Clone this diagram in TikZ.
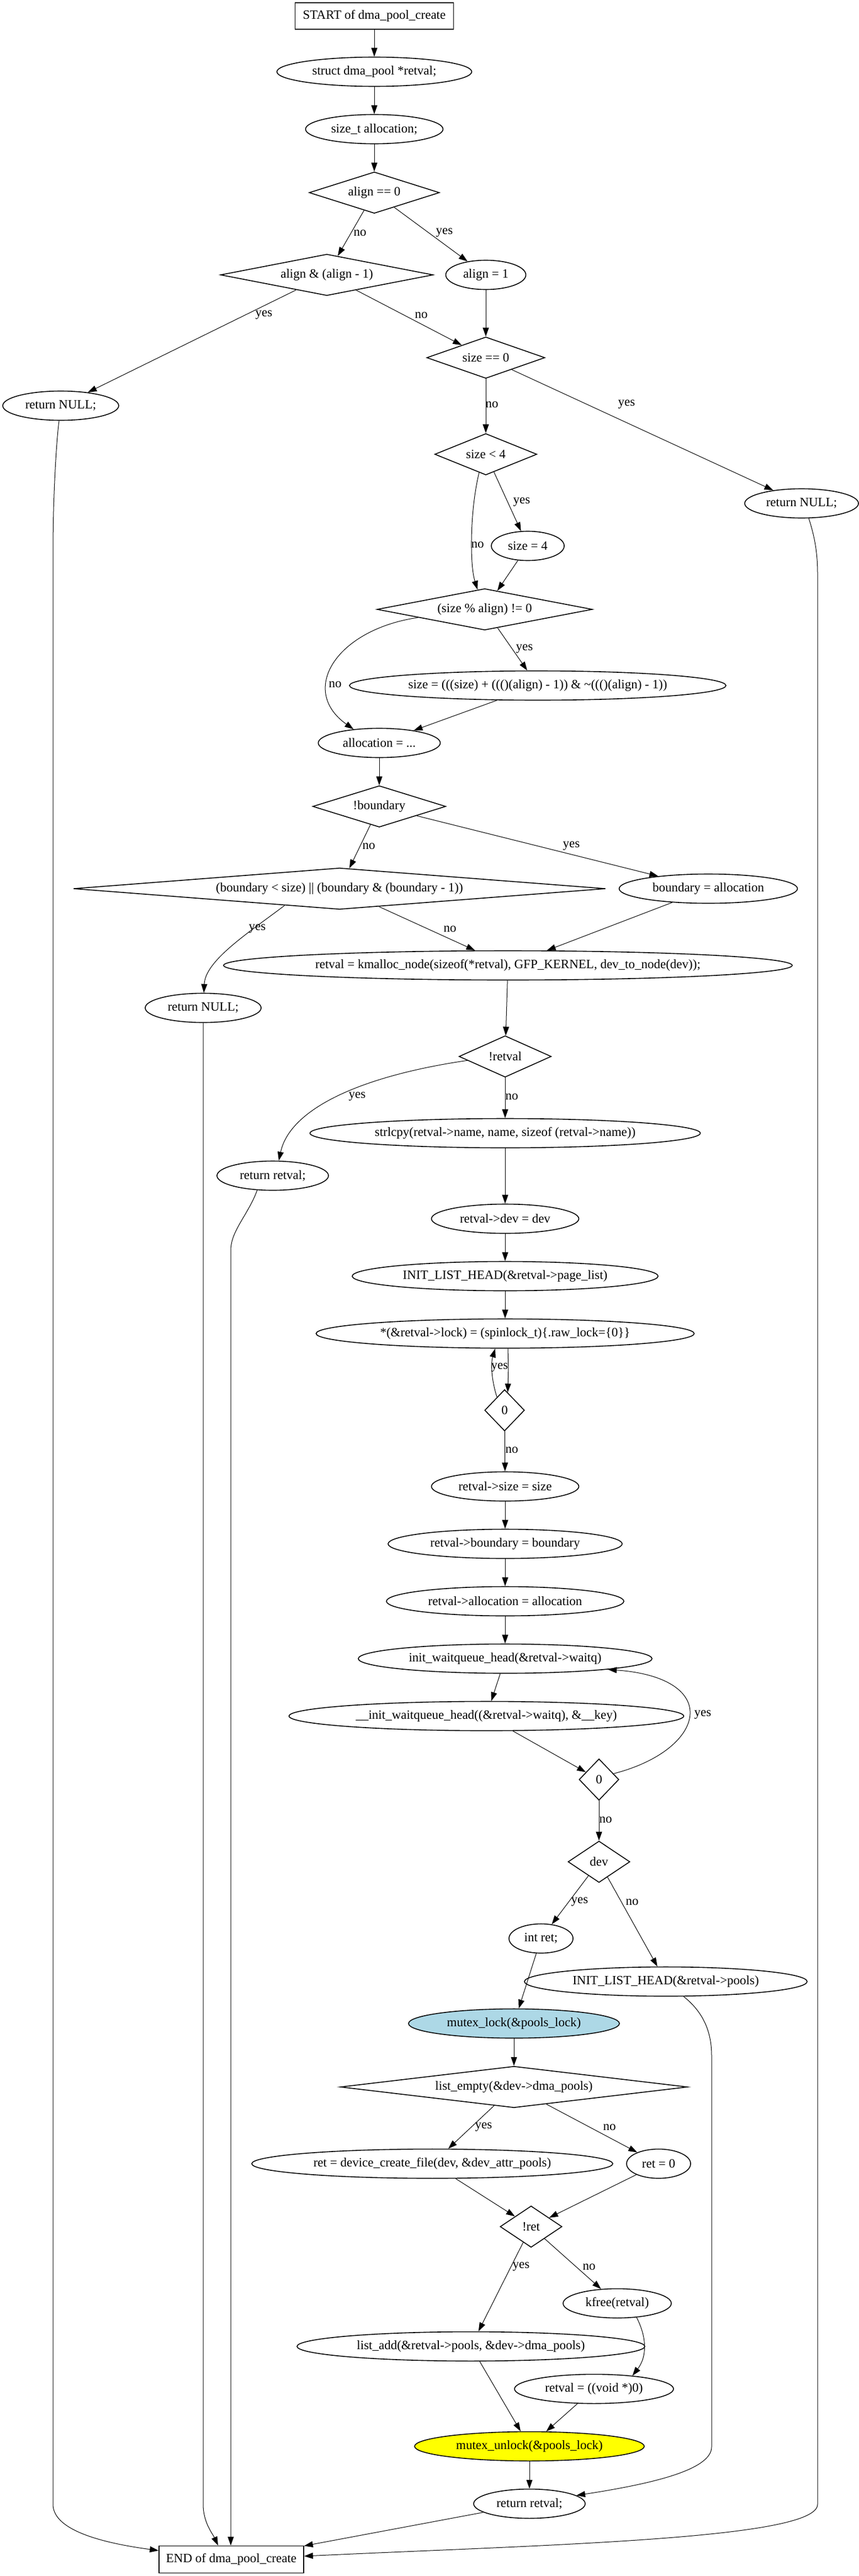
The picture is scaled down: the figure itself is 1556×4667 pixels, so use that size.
\documentclass[tikz,border=0pt]{standalone}
\usepackage{fontspec}
\setmainfont{Liberation Serif}
\usetikzlibrary{shapes.geometric,arrows.meta}
\definecolor{gvblue}{HTML}{ADD8E6}
\definecolor{gvyellow}{HTML}{FFFF00}
\tikzset{
  base/.style={draw, line width=0.8pt, inner sep=0pt, font=\fontsize{11.5}{13}\selectfont},
  el/.style 2 args={base, ellipse, minimum width=#1*0.5pt, minimum height=#2*0.5pt},
  dm/.style n args={3}{base, diamond, minimum width=#1*0.5pt, minimum height=#2*0.5pt, aspect=#3},
  bx/.style 2 args={base, rectangle, minimum width=#1*0.5pt, minimum height=#2*0.5pt},
  arr/.style={draw, line width=0.5pt, -{Triangle[length=8pt,width=5.5pt]}},
  lbl/.style={inner sep=0pt, font=\fontsize{11.5}{13}\selectfont},
}
\begin{document}
\begin{tikzpicture}[x=0.5pt,y=-0.5pt]
\path[fill=white] (0,0) rectangle (1556,4667);
\useasboundingbox (0,0) rectangle (1556,4667);
% nodes
\node[bx={287}{48}] (start) at (678,29) {START of dma\_pool\_create};
\node[el={353}{53}] (s1) at (678,130) {struct dma\_pool *retval;};
\node[el={249}{53}] (s2) at (678,234) {size\_t allocation;};
\node[dm={236}{75}{3.15}] (d1) at (678,349) {align == 0};
\node[dm={385}{75}{5.13}] (d2) at (592,498) {align \& (align - 1)};
\node[el={145}{53}] (a1) at (880,498) {align = 1};
\node[dm={214}{75}{2.85}] (d3) at (880,648) {size == 0};
\node[el={210}{53}] (rn1) at (110,735) {return NULL;};
\node[dm={185}{75}{2.47}] (d4) at (880,823) {size < 4};
\node[el={206}{53}] (rn2) at (1452,912) {return NULL;};
\node[el={132}{53}] (sz4) at (956,989) {size = 4};
\node[dm={390}{75}{5.2}] (d5) at (878,1104) {(size \% align) != 0};
\node[el={682}{53}] (szc) at (974,1242) {size = (((size) + ((()(align) - 1)) \& \textasciitilde((()(align) - 1))};
\node[el={221}{53}] (alloc) at (687,1346) {allocation = ...};
\node[dm={241}{75}{3.21}] (d6) at (687,1461) {!boundary};
\node[dm={964}{75}{12.85}] (d7) at (615,1610) {(boundary < size) || (boundary \& (boundary - 1))};
\node[el={323}{53}] (ba) at (1283,1610) {boundary = allocation};
\node[el={1030}{53}] (km) at (920,1749) {retval = kmalloc\_node(sizeof(*retval), GFP\_KERNEL, dev\_to\_node(dev));};
\node[el={210}{53}] (rn3) at (368,1826) {return NULL;};
\node[dm={167}{75}{2.23}] (d8) at (915,1914) {!retval};
\node[el={707}{53}] (strl) at (915,2053) {strlcpy(retval->name, name, sizeof (retval->name))};
\node[el={202}{53}] (rr1) at (494,2130) {return retval;};
\node[el={267}{53}] (dev) at (915,2208) {retval->dev = dev};
\node[el={554}{53}] (ilh) at (915,2312) {INIT\_LIST\_HEAD(\&retval->page\_list)};
\node[el={685}{53}] (spin) at (915,2416) {*(\&retval->lock) = (spinlock\_t)\{.raw\_lock=\{0\}\}};
\node[dm={72}{75}{0.96}] (d9) at (914,2555) {0};
\node[el={267}{53}] (rsz) at (915,2693) {retval->size = size};
\node[el={424}{53}] (rb) at (915,2797) {retval->boundary = boundary};
\node[el={430}{53}] (ra) at (915,2901) {retval->allocation = allocation};
\node[el={532}{53}] (iwq) at (915,3005) {init\_waitqueue\_head(\&retval->waitq)};
\node[el={715}{53}] (iwq2) at (881,3109) {\_\_init\_waitqueue\_head((\&retval->waitq), \&\_\_key)};
\node[dm={72}{75}{0.96}] (d10) at (1085,3224) {0};
\node[dm={112}{75}{1.49}] (d11) at (1085,3373) {dev};
\node[el={116}{53}] (iret) at (980,3512) {int ret;};
\node[el={512}{53}] (ilp) at (1206,3590) {INIT\_LIST\_HEAD(\&retval->pools)};
\node[el={382}{53}, fill=gvblue] (ml) at (931,3666) {mutex\_lock(\&pools\_lock)};
\node[dm={629}{75}{8.39}] (d12) at (931,3781) {list\_empty(\&dev->dma\_pools)};
\node[el={654}{53}] (dcf) at (783,3920) {ret = device\_create\_file(dev, \&dev\_attr\_pools)};
\node[el={116}{53}] (r0) at (1193,3920) {ret = 0};
\node[dm={112}{75}{1.49}] (d13) at (962,4034) {!ret};
\node[el={196}{53}] (kf) at (1118,4173) {kfree(retval)};
\node[el={630}{53}] (la) at (853,4251) {list\_add(\&retval->pools, \&dev->dma\_pools)};
\node[el={288}{53}] (rv0) at (1076,4328) {retval = ((void *)0)};
\node[el={416}{53}, fill=gvyellow] (mu) at (959,4432) {mutex\_unlock(\&pools\_lock)};
\node[el={202}{53}] (rr2) at (959,4536) {return retval;};
\node[bx={262}{49}] (end) at (419,4637) {END of dma\_pool\_create};
% edges
\draw[arr] (start) -- (s1);
\draw[arr] (s1) -- (s2);
\draw[arr] (s2) -- (d1);
\draw[arr] (d1) -- (d2);
\draw[arr] (d1) -- (a1);
\draw[arr] (d2) -- (rn1);
\draw[arr] (d2) -- (d3);
\draw[arr] (a1) -- (d3);
\draw[arr] (d3) -- (d4);
\draw[arr] (d3) -- (rn2);
\draw[arr] (d4.250) .. controls (852,920) and (850,1020) .. (d5.110);
\draw[arr] (d4) -- (sz4);
\draw[arr] (sz4) -- (d5);
\draw[arr] (d5.187) .. controls (610,1140) and (540,1250) .. (alloc.152);
\draw[arr] (d5) -- (szc);
\draw[arr] (szc) -- (alloc);
\draw[arr] (alloc) -- (d6);
\draw[arr] (d6) -- (d7);
\draw[arr] (d6) -- (ba);
\draw[arr] (d7.197) .. controls (450,1690) and (372,1740) .. (rn3);
\draw[arr] (d7) -- (km);
\draw[arr] (ba) -- (km);
\draw[arr] (km) -- (d8);
\draw[arr] (d8.186) .. controls (650,1950) and (525,2010) .. ([xshift=5.5pt]rr1.north);
\draw[arr] (d8) -- (strl);
\draw[arr] (strl) -- (dev);
\draw[arr] (dev) -- (ilh);
\draw[arr] (ilh) -- (spin);
\draw[arr] ([xshift=2.5pt]spin.south) .. controls (921,2480) .. (d9.80);
\draw[arr] (d9.120) .. controls (890,2500) and (889,2470) .. ([xshift=-9pt]spin.south);
\draw[arr] (d9) -- (rsz);
\draw[arr] (rsz) -- (rb);
\draw[arr] (rb) -- (ra);
\draw[arr] (ra) -- (iwq);
\draw[arr] (iwq) -- (iwq2);
\draw[arr] (iwq2) -- (d10);
\draw[arr] (d10.22) .. controls (1280,3170) and (1310,3040) .. (iwq.-6);
\draw[arr] (d10) -- (d11);
\draw[arr] (d11) -- (iret);
\draw[arr] (d11) -- (ilp);
\draw[arr] (iret) -- (ml);
\draw[arr] (ilp.-40) .. controls (1280,3650) and (1289,3690) .. (1289,3725) -- (1289,4433) .. controls (1289,4475) and (1180,4500) .. (rr2.10);
\draw[arr] (ml) -- (d12);
\draw[arr] (d12) -- (dcf);
\draw[arr] (d12) -- (r0);
\draw[arr] (dcf) -- (d13);
\draw[arr] (r0) -- (d13);
\draw[arr] (d13) -- (la);
\draw[arr] (d13) -- (kf);
\draw[arr] (kf.-36) .. controls (1172,4235) and (1172,4270) .. (rv0.19);
\draw[arr] (la) -- (mu);
\draw[arr] (rv0) -- (mu);
\draw[arr] (mu) -- (rr2);
\draw[arr] (rr2) -- (end);
\draw[arr] ([xshift=-1.5pt]rn1.south) .. controls (102,800) and (96,900) .. (96,1000) -- (96,4537) .. controls (96,4580) and (170,4605) .. (end.173);
\draw[arr] (rn3) -- (368,4537) .. controls (368,4570) and (385,4590) .. ([xshift=-12pt]end.north);
\draw[arr] (rr1.223) .. controls (450,2200) and (418,2230) .. (418,2265) -- ([xshift=-0.5pt]end.north);
\draw[arr] ([xshift=6.5pt]rn2.south) .. controls (1475,970) and (1481,1000) .. (1481,1040) -- (1481,4537) .. controls (1481,4600) and (1000,4610) .. ([yshift=3pt]end.east);
% labels
\node[lbl] (l1) at (652,422) {no};
\node[lbl] (l2) at (805,422) {yes};
\node[lbl] (l3) at (478,571) {yes};
\node[lbl] (l4) at (763,571) {no};
\node[lbl] (l5) at (891,733) {no};
\node[lbl] (l6) at (1135,733) {yes};
\node[lbl] (l7) at (945,910) {yes};
\node[lbl] (l8) at (865,987) {no};
\node[lbl] (l9) at (950,1176) {yes};
\node[lbl] (l10) at (607,1240) {no};
\node[lbl] (l11) at (668,1533) {no};
\node[lbl] (l12) at (1035,1533) {yes};
\node[lbl] (l13) at (466,1683) {yes};
\node[lbl] (l14) at (815,1683) {no};
\node[lbl] (l15) at (647,1987) {yes};
\node[lbl] (l16) at (927,1987) {no};
\node[lbl] (l17) at (905,2478) {yes};
\node[lbl] (l18) at (927,2627) {no};
\node[lbl] (l19) at (1273,3107) {yes};
\node[lbl] (l20) at (1097,3297) {no};
\node[lbl] (l21) at (1050,3446) {yes};
\node[lbl] (l22) at (1145,3446) {no};
\node[lbl] (l23) at (876,3854) {yes};
\node[lbl] (l24) at (1104,3854) {no};
\node[lbl] (l25) at (944,4107) {yes};
\node[lbl] (l26) at (1067,4107) {no};
\end{tikzpicture}
\end{document}
